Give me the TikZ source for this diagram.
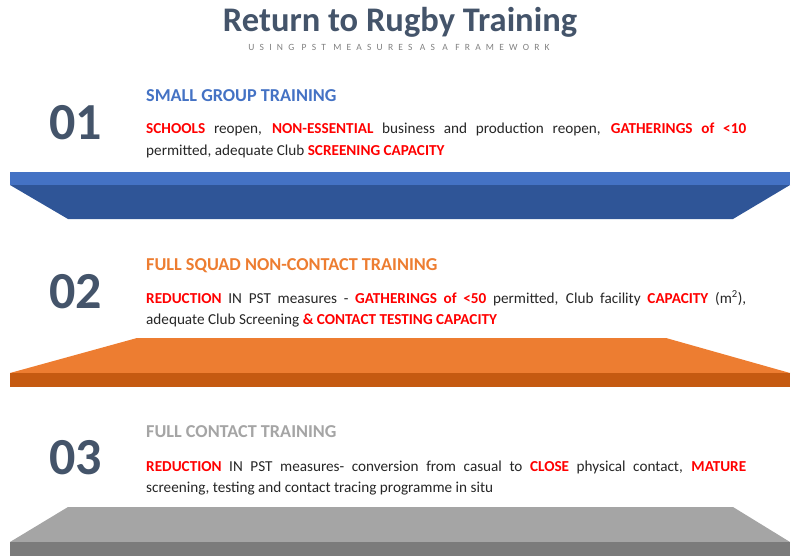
\documentclass[tikz,border=0pt]{standalone}
\usepackage{fontspec}
\setmainfont{Carlito}
\definecolor{slate}{HTML}{44546A}
\definecolor{blueTop}{HTML}{4472C4}
\definecolor{blueSide}{HTML}{2F5597}
\definecolor{orangeTop}{HTML}{ED7D31}
\definecolor{orangeSide}{HTML}{C55A11}
\definecolor{grayTop}{HTML}{A5A5A5}
\definecolor{graySide}{HTML}{7B7B7B}
\definecolor{bodytext}{HTML}{262626}
\definecolor{hot}{HTML}{FF0000}
\newcommand{\hl}[1]{\textcolor{hot}{\textbf{#1}}}
\tikzset{
  stepnum/.style={anchor=base west, inner sep=0pt, text=slate, font=\fontsize{52}{52}\selectfont\bfseries},
  stephead/.style={anchor=base west, inner sep=0pt, font=\fontsize{18.2}{18}\selectfont\bfseries},
  stepbody/.style={anchor=base west, inner sep=0pt, text width=600pt, align=justify, text=bodytext, font=\fontsize{15.2}{21}\selectfont}
}
\begin{document}
\begin{tikzpicture}[x=1pt, y=-1pt]
		\useasboundingbox (0,0) rectangle (791,556);
		% title
		\node [anchor=base, inner sep=0pt, text=slate, font=\fontsize{34.5}{34}\selectfont\bfseries] (title) at (400, 32) {Return to Rugby Training};
		\node [anchor=base, inner sep=0pt, text=gray, font=\fontsize{9.5}{9}\selectfont\addfontfeature{LetterSpace=55}] (subtitle) at (399, 51) {USING PST MEASURES AS A FRAMEWORK};
		
		% step 01
		\node [stepnum] (num1) at (49, 140) {01};
		\node [stephead, text=blueTop] (head1) at (146, 102) {SMALL GROUP TRAINING};
		\node [stepbody] (body1) at (146, 134) {\hl{SCHOOLS} reopen, \hl{NON-ESSENTIAL} business and production reopen, \hl{GATHERINGS of <10}\linebreak permitted, adequate Club \hl{SCREENING CAPACITY}};
		\fill [blueTop] (10,172) rectangle (790,185);
		\fill [blueSide] (10,185) -- (790,185) -- (733,219) -- (68,219) -- cycle;
		
		% step 02
		\node [stepnum] (num2) at (49, 308) {02};
		\node [stephead, text=orangeTop] (head2) at (146, 270) {FULL SQUAD NON-CONTACT TRAINING};
		\node [stepbody] (body2) at (146, 303) {\hl{REDUCTION} IN PST measures - \hl{GATHERINGS of <50} permitted, Club facility \hl{CAPACITY} (m\textsuperscript{2}),\linebreak adequate Club Screening \hl{\& CONTACT TESTING CAPACITY}};
		\fill [orangeTop] (137,338) -- (666,338) -- (790,373) -- (10,373) -- cycle;
		\fill [orangeSide] (10,373) rectangle (790,387);
		
		% step 03
		\node [stepnum] (num3) at (49, 474) {03};
		\node [stephead, text=grayTop] (head3) at (146, 437) {FULL CONTACT TRAINING};
		\node [stepbody] (body3) at (146, 471) {\hl{REDUCTION} IN PST measures- conversion from casual to \hl{CLOSE} physical contact, \hl{MATURE}\linebreak screening, testing and contact tracing programme in situ};
		\fill [grayTop] (68,507) -- (733,507) -- (790,542) -- (10,542) -- cycle;
		\fill [graySide] (10,542) rectangle (790,556);
		
\end{tikzpicture}
\end{document}
